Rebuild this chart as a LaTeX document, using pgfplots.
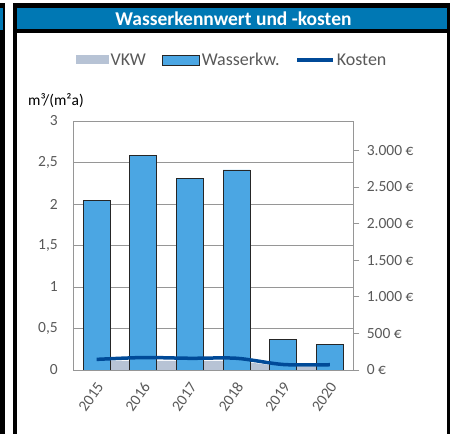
\documentclass[border=0pt]{standalone}
\usepackage{pgfplots}
\pgfplotsset{compat=1.18}
\usepackage{fontspec}
\setmainfont{Carlito}
\definecolor{titleblue}{RGB}{0,120,180}
\definecolor{barblue}{RGB}{75,166,227}
\definecolor{linblue}{RGB}{0,74,152}
\definecolor{vkwgray}{RGB}{183,195,213}
\definecolor{txtgray}{RGB}{89,89,89}
\definecolor{gridgray}{RGB}{150,150,150}
\begin{document}
\begin{tikzpicture}[x=1pt,y=1pt]
\useasboundingbox (0,0) rectangle (450,434);
% frames
\fill[black] (0,0) rectangle (5,431);
\fill[titleblue] (0,404) rectangle (2.7,426);
\fill[black] (13,0) rectangle (17.3,431);
\fill[black] (13,426) rectangle (450,431);
\fill[titleblue] (17.3,405) rectangle (447.3,426);
\fill[black] (17.3,401) rectangle (447.3,405);
\fill[black] (447.3,0) rectangle (450,431);
\node[white, font=\fontsize{19.5}{22}\selectfont\bfseries] at (233.5,415.5) {Wasserkennwert und -kosten};
\node[black, font=\fontsize{15.5}{18}\selectfont] at (56,333) {m³/(m²a)};

\begin{axis}[
  at={(73.3pt,64pt)}, anchor=south west, scale only axis,
  width=280pt, height=249pt,
  xmin=-0.5, xmax=5.5, ymin=0, ymax=3,
  xtick={0,1,2,3,4,5}, xticklabels={2015,2016,2017,2018,2019,2020},
  ytick={0,0.5,1,1.5,2,2.5,3},
  /pgf/number format/assume math mode=true,
  /pgf/number format/use comma,
  ymajorgrids, grid style={gridgray, line width=0.8pt},
  axis line style={gridgray, line width=0.8pt},
  major tick length=0pt,
  xtick pos=bottom, ytick pos=left,
  tick label style={font=\fontsize{15.5}{18}\selectfont, text=txtgray},
  yticklabel style={xshift=-12pt},
  xticklabel style={yshift=-13pt, xshift=4pt, rotate=55, anchor=east, inner sep=1pt},
  legend columns=3,
  legend style={at={(0.567,1.245)}, anchor=center, draw=none, fill=none,
    font=\fontsize{18}{20}\selectfont, text=txtgray,
    /tikz/every even column/.append style={column sep=14pt},
    nodes={inner sep=2pt}},
]
\addplot[fill=vkwgray, draw=none,
  legend image code/.code={\fill[vkwgray] (0pt,-4.5pt) rectangle (33pt,4.5pt);}]
  coordinates {(0,0) (0,0.11) (1,0.11) (2,0.11) (3,0.11) (4,0.04) (5,0.04) (5,0)} -- cycle;
\addlegendentry{VKW}
\addplot[ybar, bar width=27pt, fill=barblue, draw=black!85, line width=0.8pt,
  legend image code/.code={\draw[fill=barblue, draw=black!85, line width=0.8pt] (0pt,-5pt) rectangle (37pt,5pt);}]
  coordinates {(0,2.04) (1,2.59) (2,2.31) (3,2.41) (4,0.37) (5,0.31)};
\addlegendentry{Wasserkw.}
\addlegendimage{linblue, line width=3.3pt,
  legend image code/.code={\draw[linblue, line width=3.3pt] (0pt,0pt) -- (36pt,0pt);}}
\addlegendentry{Kosten}
\end{axis}

\begin{axis}[
  at={(73.3pt,64pt)}, anchor=south west, scale only axis,
  width=280pt, height=249pt,
  xmin=-0.5, xmax=5.5, ymin=0, ymax=3400,
  axis x line=none, axis y line*=right,
  ytick={0,500,1000,1500,2000,2500,3000},
  axis line style={gridgray, line width=0.8pt},
  tick style={gridgray, line width=0.8pt},
  major tick length=6pt, tick align=outside,
  yticklabel={\pgfmathprintnumber[assume math mode=true, 1000 sep={.}]{\tick}~€},
  tick label style={font=\fontsize{15.5}{18}\selectfont, text=txtgray},
  yticklabel style={xshift=4pt},
]
\addplot[linblue, line width=3.5pt, smooth]
  coordinates {(0,145) (1,170) (2,160) (3,160) (4,75) (5,72)};
\end{axis}
\end{tikzpicture}
\end{document}
